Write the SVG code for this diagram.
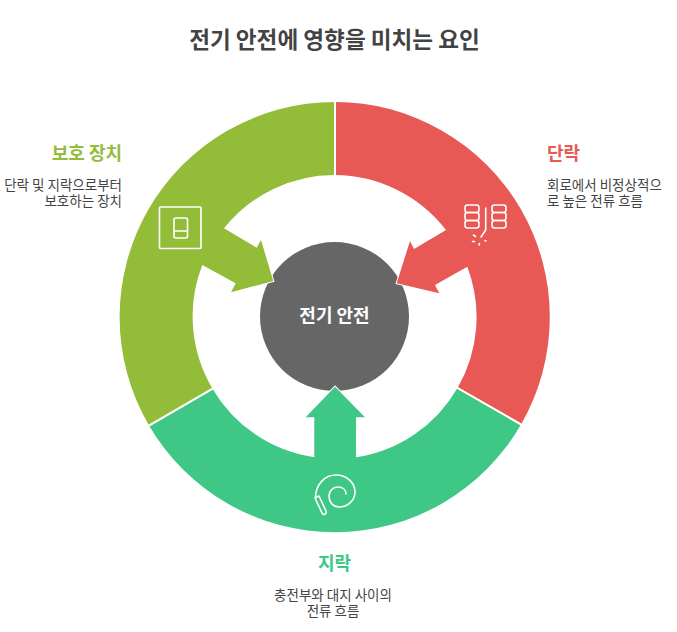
<svg xmlns="http://www.w3.org/2000/svg" width="677" height="632" viewBox="0 0 677 632">
<style>
text{font-family:"Noto Sans CJK KR","Noto Sans",sans-serif}
.title{font-size:22.6px;font-weight:700;fill:#434343}
.head{font-size:18px;font-weight:700}
.body{font-size:13.5px;fill:#434343}
.seg{stroke:#fff;stroke-width:2;paint-order:stroke;stroke-linejoin:miter}
.div{stroke:#fff;stroke-width:2;fill:none}
.ic{fill:none;stroke:#fff;stroke-width:1.600;stroke-linecap:round;stroke-linejoin:round}
</style>
<rect width="677" height="632" fill="#fff"/>
<text class="title" x="334.500" y="47.500" text-anchor="middle">전기 안전에 영향을 미치는 요인</text>
<g id="node-center">
<circle cx="334.500" cy="316.500" r="74.500" fill="#666"/>
<text x="334.500" y="321.500" text-anchor="middle" font-size="18" font-weight="700" fill="#fff">전기 안전</text>
</g>
<g id="connectors">
<path id="seg-red" class="seg" fill="#e85854" d="M335 102A215 215 0 0 1 521 424.500L457.500 388A141.500 141.500 0 0 0 467.300 266.700L435 285L439.300 293.300L396.700 283.300L410 241L414 249L446 230A141.500 141.500 0 0 0 335 175Z"/>
<path id="seg-green" class="seg" fill="#3ec785" d="M521 424.500A215 215 0 0 1 149 425.500L212.500 388.700A141.500 141.500 0 0 0 314.300 457.300L314.300 417.300L305.700 417.300L335 386.700L365 417.300L356 417.300L356 457.300A141.500 141.500 0 0 0 457.500 388Z"/>
<path id="seg-lime" class="seg" fill="#93bc39" d="M335 102A215 215 0 0 0 149 425.500L212.500 388.700A141.500 141.500 0 0 1 202.300 265L235.700 283.300L231 292.300L273.300 281L261 240L256.700 247.700L224 228.300A141.500 141.500 0 0 1 335 175Z"/>
<path class="div" d="M335 100V176M148 426.100L213.400 388.200M522 425.100L456.600 387.500"/>
</g>
<g id="node-lime">
<rect class="ic" x="159.500" y="207" width="41.500" height="41.500" rx="1"/>
<rect class="ic" x="174" y="218" width="13.500" height="20" rx="1.500"/>
<path class="ic" d="M174 231H187.500"/>
<text class="head" x="122" y="159.500" text-anchor="end" fill="#93bc39">보호 장치</text>
<text class="body" text-anchor="end"><tspan x="122" y="189.500">단락 및 지락으로부터</tspan><tspan x="122" y="205.500">보호하는 장치</tspan></text>
</g>
<g id="node-red">
<rect class="ic" x="465" y="205" width="14" height="7.500" rx="2.500"/>
<rect class="ic" x="465" y="212.500" width="14" height="8" rx="2.500"/>
<rect class="ic" x="465" y="220.500" width="14" height="7.500" rx="2.500"/>
<rect class="ic" x="492" y="205" width="14" height="7.500" rx="2.500"/>
<rect class="ic" x="492" y="212.500" width="14" height="8" rx="2.500"/>
<rect class="ic" x="492" y="220.500" width="14" height="7.500" rx="2.500"/>
<path class="ic" d="M485.700 208V230L481 237"/>
<path class="ic" d="M473.500 235L475.500 236.500M472.500 241.500H474.500M479.300 243.500V245M485 240.500L486 241"/>
<text class="head" x="547" y="159.500" fill="#e85854">단락</text>
<text class="body"><tspan x="547" y="189.500">회로에서 비정상적으</tspan><tspan x="547" y="205.500">로 높은 전류 흐름</tspan></text>
</g>
<g id="node-green">
<path class="ic" d="M315.500 497C316 484 325 475 336 475C347 475 355 483 355 492C355 501 347 507 339 507C333 507 329 502 329 496C329 490 334 487 338 487C343 487 346 490 346 494"/>
<path class="ic" d="M315 498L319 496L326 511C327 514 323 516 322 513Z"/>
<text class="head" x="334.500" y="569.500" text-anchor="middle" fill="#3ec785">지락</text>
<text class="body" text-anchor="middle"><tspan x="333" y="599.500">충전부와 대지 사이의</tspan><tspan x="333" y="615.500">전류 흐름</tspan></text>
</g>
</svg>
